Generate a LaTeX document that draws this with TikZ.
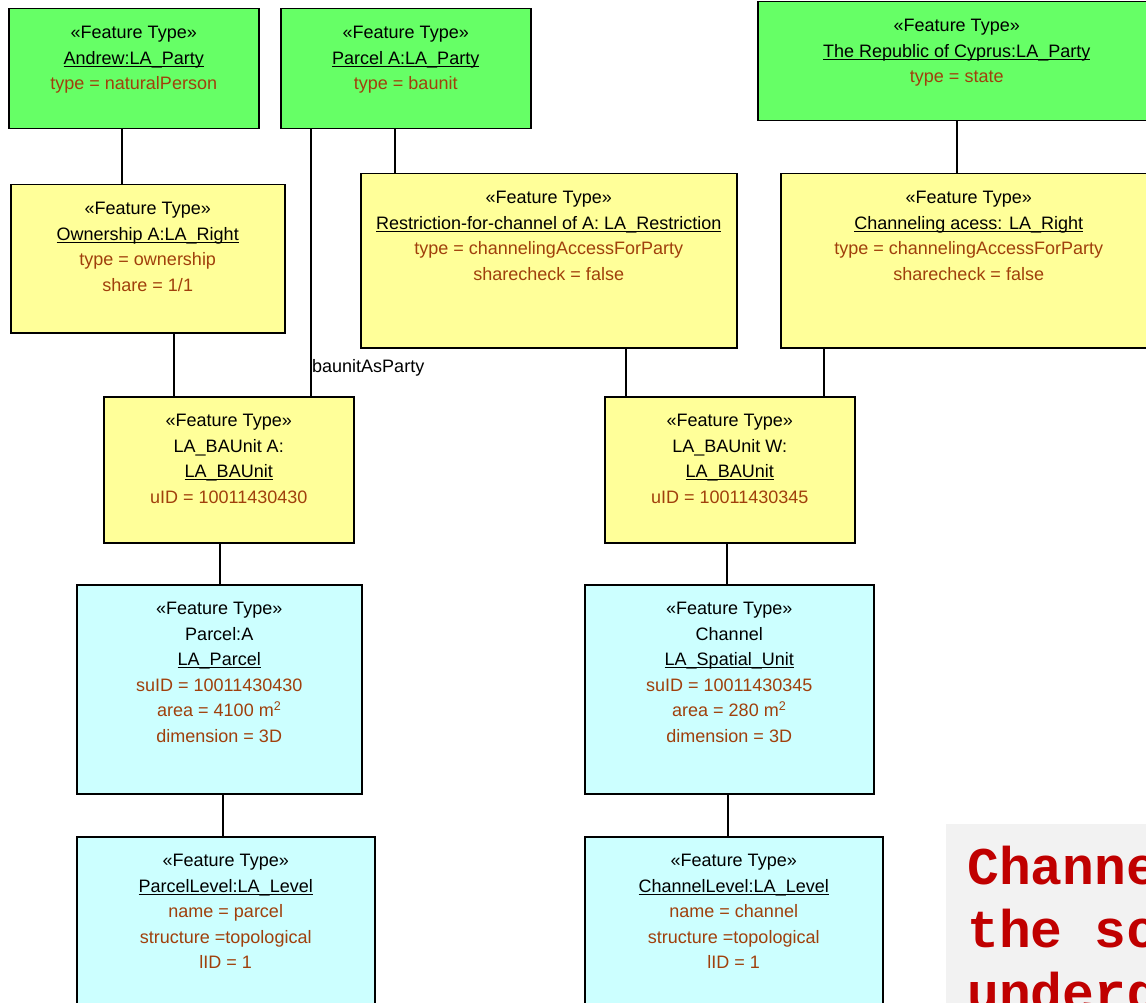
\documentclass[tikz,border=0pt]{standalone}
\usepackage{fontspec}
\setmainfont{Liberation Sans}
\newfontfamily\notefont{Liberation Mono}
\usetikzlibrary{positioning}

\definecolor{partygreen}{HTML}{66FF66}
\definecolor{rightyellow}{HTML}{FFFF99}
\definecolor{unitcyan}{HTML}{CCFFFF}
\definecolor{attrbrown}{HTML}{A0400C}
\definecolor{notegray}{HTML}{F2F2F2}
\definecolor{notered}{HTML}{C00000}

% underlined name
\newcommand{\uln}[1]{\leavevmode\setbox0\hbox{#1}\rlap{\rule[-2.6pt]{\wd0}{1pt}}\box0}
% class box text: width, height, lines
\newcommand{\ftype}[3]{\parbox[c][#2][t]{#1}{\centering\vspace*{17.5pt}«Feature Type»\\#3}}
\newcommand{\attrs}[1]{{\color{attrbrown}#1}}

\begin{document}
\begin{tikzpicture}[
    x=1pt, y=-1pt,
    box/.style={draw, line width=1.5pt, inner sep=0pt, anchor=north west, font=\fontsize{18}{25.5}\selectfont},
    partybox/.style={box, fill=partygreen},
    rightbox/.style={box, fill=rightyellow},
    unitbox/.style={box, fill=unitcyan},
    link/.style={line width=1.5pt},
    lbl/.style={font=\fontsize{18}{22}\selectfont, inner sep=1pt}
  ]
    \useasboundingbox (0,0) rectangle (1146,1003);
    \clip (0,0) rectangle (1146,1003);

    % Parties
    \node[partybox] (andrew) at (8,8) {\ftype{250pt}{120pt}{\uln{Andrew:LA\_Party}\\\attrs{type = naturalPerson}}};
    \node[partybox] (partyA) at (280,8) {\ftype{250pt}{120pt}{\uln{Parcel A:LA\_Party}\\\attrs{type = baunit}}};
    \node[partybox] (cyprus) at (757,1) {\ftype{398pt}{119pt}{\uln{The Republic of Cyprus:LA\_Party}\\\attrs{type = state}}};

    % Rights and restrictions
    \node[rightbox] (owner) at (10,184) {\ftype{274pt}{148pt}{\uln{Ownership A:LA\_Right}\\\attrs{type = ownership\\share = 1/1}}};
    \node[rightbox] (restr) at (360,173) {\ftype{376pt}{174pt}{\uln{Restriction-for-channel of A: LA\_Restriction}\\\attrs{type = channelingAccessForParty\\sharecheck = false}}};
    \node[rightbox] (chanacc) at (780,173) {\ftype{376pt}{174pt}{\uln{Channeling acess: LA\_Right}\\\attrs{type = channelingAccessForParty\\sharecheck = false}}};

    % BA units
    \node[rightbox] (bauA) at (103,396) {\ftype{250pt}{146pt}{LA\_BAUnit A:\\\uln{LA\_BAUnit}\\\attrs{uID = 10011430430}}};
    \node[rightbox] (bauW) at (604,396) {\ftype{250pt}{146pt}{LA\_BAUnit W:\\\uln{LA\_BAUnit}\\\attrs{uID = 10011430345}}};

    % Spatial units
    \node[unitbox] (parcelA) at (76,584) {\ftype{285pt}{209pt}{Parcel:A\\\uln{LA\_Parcel}\\\attrs{suID = 10011430430\\area = 4100 m\textsuperscript{2}\\dimension = 3D}}};
    \node[unitbox] (channel) at (584,584) {\ftype{289pt}{209pt}{Channel\\\uln{LA\_Spatial\_Unit}\\\attrs{suID = 10011430345\\area = 280 m\textsuperscript{2}\\dimension = 3D}}};

    % Levels
    \node[unitbox] (plevel) at (76,836) {\ftype{298pt}{190pt}{\uln{ParcelLevel:LA\_Level}\\\attrs{name = parcel\\structure =topological\\lID = 1}}};
    \node[unitbox] (clevel) at (584,836) {\ftype{298pt}{190pt}{\uln{ChannelLevel:LA\_Level}\\\attrs{name = channel\\structure =topological\\lID = 1}}};

    % Note
    \node[fill=notegray, inner sep=0pt, anchor=north west, text=notered, font=\notefont\bfseries\fontsize{53}{63}\selectfont] (note) at (946,824)
      {\parbox[c][200pt][t]{420pt}{\raggedright\hyphenpenalty=10000\vspace*{22pt}\hspace*{21pt}Channel\\\hspace*{21pt}the sc\\\hspace*{21pt}underg}};

    % Connectors
    \draw[link] ([xshift=-12pt]andrew.south) -- ([xshift=-12pt]andrew.south |- owner.north);
    \draw[link] ([xshift=-95pt]partyA.south) -- ([xshift=-95pt]partyA.south |- bauA.north);
    \draw[link] ([xshift=-11pt]partyA.south) -- ([xshift=-11pt]partyA.south |- restr.north);
    \draw[link] (cyprus.south) -- (cyprus.south |- chanacc.north);
    \draw[link] ([xshift=26pt]owner.south) -- ([xshift=26pt]owner.south |- bauA.north);
    \draw[link] ([xshift=77pt]restr.south) -- ([xshift=77pt]restr.south |- bauW.north);
    \draw[link] ([xshift=-145pt]chanacc.south) -- ([xshift=-145pt]chanacc.south |- bauW.north);
    \draw[link] ([xshift=-9pt]bauA.south) -- ([xshift=-9pt]bauA.south |- parcelA.north);
    \draw[link] ([xshift=-3pt]bauW.south) -- ([xshift=-3pt]bauW.south |- channel.north);
    \draw[link] ([xshift=3.5pt]parcelA.south) -- ([xshift=3.5pt]parcelA.south |- plevel.north);
    \draw[link] ([xshift=-1.5pt]channel.south) -- ([xshift=-1.5pt]channel.south |- clevel.north);

    % Role label
    \node[lbl, anchor=west] (asparty) at (311,368) {baunitAsParty};
\end{tikzpicture}
\end{document}
